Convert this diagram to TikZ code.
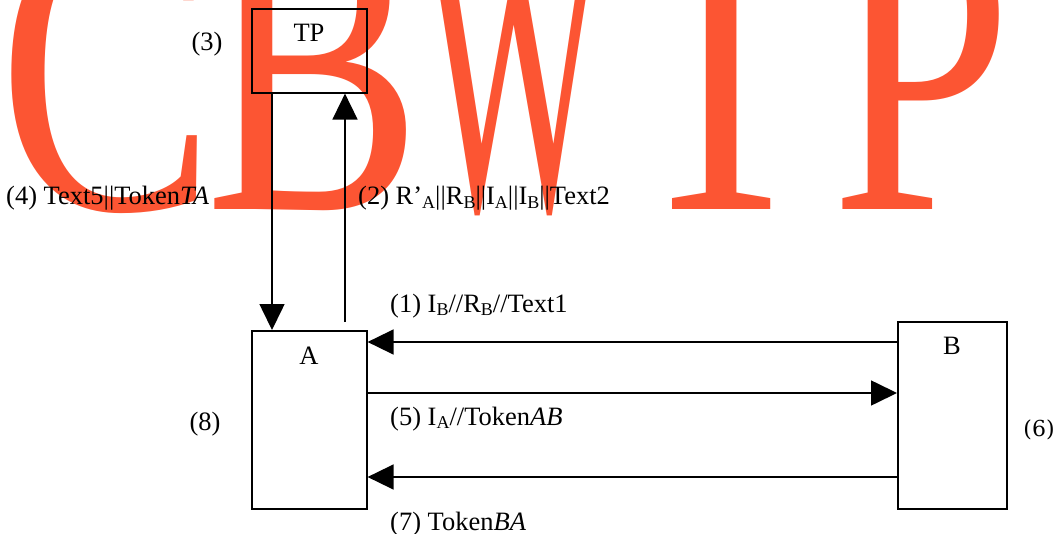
\documentclass[tikz,border=0pt]{standalone}
\usepackage{fontspec}
\usepackage{graphicx}
\setmainfont{Liberation Serif}
\newfontfamily\dvserif{DejaVu Serif}
\usetikzlibrary{arrows.meta}
\definecolor{wmred}{RGB}{252,85,51}
% lowered, smaller subscript
\newcommand{\lsub}[1]{\raisebox{-0.15em}{\fontsize{18}{18}\selectfont #1}}
% tall lettering
\newcommand{\tallletter}[2][1]{\scalebox{#1}[1.3]{#2}}

\begin{document}
\begin{tikzpicture}[x=1pt,y=-1pt,
  box/.style={draw, line width=1.6pt, inner sep=0pt},
  lbl/.style={inner sep=0pt, font=\fontsize{26.5}{31}\selectfont},
  flow/.style={line width=1.6pt, -{Triangle[width=25pt,length=26pt]}},
  wm/.style={inner sep=0pt, text=wmred, font=\fontsize{325}{325}\selectfont}]
\useasboundingbox (0,0) rectangle (1056,534);

% background lettering
\begin{scope}
\clip (0,0) rectangle (1056,534);
\node[wm, anchor=base west] (wmc) at (-2,210) {\tallletter{C}};
\node[wm, anchor=base west] (wmb) at (205,210) {\tallletter{B}};
\node[wm, anchor=base] (wmw) at (514,210) {\tallletter[0.6]{W}};
\node[wm, anchor=base] (wmt) at (722,210) {\tallletter{T}};
\node[wm, anchor=base west] (wmp) at (831,210) {\tallletter{P}};
\end{scope}

% boxes
\node[box, minimum width=115pt, minimum height=84pt, anchor=north west] (tp) at (251,8) {};
\node[box, minimum width=115pt, minimum height=178pt, anchor=north west] (a) at (251,330) {};
\node[box, minimum width=109pt, minimum height=187pt, anchor=north west] (b) at (897,321) {};

\node[lbl, anchor=base] (tpl) at (309,42) {TP};
\node[lbl, anchor=base] (al) at (309,364) {A};
\node[lbl, anchor=base] (bl) at (952,354) {B};

% vertical exchanges with TP
\coordinate (xdown) at (272,0);
\coordinate (aout) at (345,322);
\draw[flow] (xdown |- tp.south) -- (xdown |- a.north);
\draw[flow] (aout) -- (aout |- tp.south);

% horizontal exchanges between A and B
\coordinate (y1) at (0,342);
\coordinate (y5) at (0,393);
\coordinate (y7) at (0,477);
\draw[flow] (y1 -| b.west) -- (y1 -| a.east);
\draw[flow] (y5 -| a.east) -- (y5 -| b.west);
\draw[flow] (y7 -| b.west) -- (y7 -| a.east);

% labels
\node[lbl, anchor=base] (l3) at (207,51) {(3)};
\node[lbl, anchor=base west] (l4) at (6,205) {(4) Text5||Token\textit{TA}};
\node[lbl, anchor=base west] (l2) at (358,205) {(2) R’\lsub{A}||R\lsub{B}||I\lsub{A}||I\lsub{B}||Text2};
\node[lbl, anchor=base west] (l1) at (390,312) {(1) I\lsub{B}//R\lsub{B}//Text1};
\node[lbl, anchor=base west] (l5) at (390,425) {(5) I\lsub{A}//Token\textit{AB}};
\node[lbl, anchor=base west] (l7) at (390,530) {(7) Token\textit{BA}};
\node[lbl, anchor=base] (l8) at (205,430) {(8)};
\node[lbl, anchor=base, font=\dvserif\fontsize{22}{26}\selectfont] (l6) at (1039,436) {(6)};
\end{tikzpicture}
\end{document}
